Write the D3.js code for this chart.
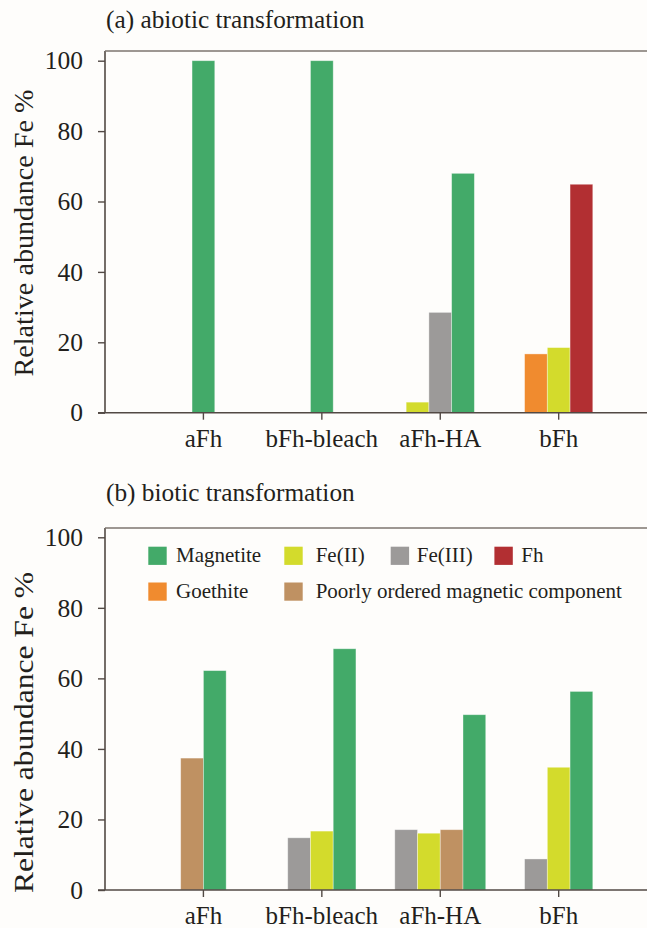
<!DOCTYPE html>
<html>
<head>
<meta charset="utf-8">
<script src="https://cdn.jsdelivr.net/npm/d3@7/dist/d3.min.js"></script>
<style>
  html, body { margin: 0; padding: 0; background: #fefdfb; }
  svg { display: block; }
  svg text { font-family: "Liberation Serif", Tinos, "Times New Roman", Times, "DejaVu Serif", serif !important; fill: #231f1c; }
</style>
</head>
<body>
<svg id="chart" width="647" height="928"></svg>
<script>
// Sample groups along the x axis
const categories = ["aFh", "bFh-bleach", "aFh-HA", "bFh"];
const yTicks = [0, 20, 40, 60, 80, 100];

// (a) abiotic transformation, relative abundance of Fe phases (%)
const abioticGoethite  = [0, 0, 0, 16.7];
const abioticFe2       = [0, 0, 3.0, 18.5];
const abioticFe3       = [0, 0, 28.5, 0];
const abioticMagnetite = [100, 100, 68.0, 0];
const abioticFh        = [0, 0, 0, 64.9];

// (b) biotic transformation
const bioticFe3       = [0, 14.8, 17.1, 8.8];
const bioticFe2       = [0, 16.7, 16.1, 34.8];
const bioticPoorly    = [37.4, 0, 17.1, 0];
const bioticMagnetite = [62.2, 68.4, 49.7, 56.3];

const colors = {
  "Magnetite": "#43aa69",
  "Fe(II)": "#d3db2c",
  "Fe(III)": "#9c9a99",
  "Fh": "#b22f32",
  "Goethite": "#f08b2f",
  "Poorly ordered magnetic component": "#bf9162"
};

const panels = [
  {
    title: "(a) abiotic transformation",
    series: [
      { name: "Goethite", values: abioticGoethite },
      { name: "Fe(II)", values: abioticFe2 },
      { name: "Fe(III)", values: abioticFe3 },
      { name: "Magnetite", values: abioticMagnetite },
      { name: "Fh", values: abioticFh }
    ],
    frameTop: 51, y0: 412.7, y100: 60.7, titleY: 27.7,
    labelCenter: 233, labelLength: 287, legend: false
  },
  {
    title: "(b) biotic transformation",
    series: [
      { name: "Fe(III)", values: bioticFe3 },
      { name: "Fe(II)", values: bioticFe2 },
      { name: "Poorly ordered magnetic component", values: bioticPoorly },
      { name: "Magnetite", values: bioticMagnetite }
    ],
    frameTop: 528, y0: 890, y100: 537.3, titleY: 501,
    labelCenter: 732.5, labelLength: 321, legend: true
  }
];

const svg = d3.select("#chart");
const W = 647;
const axisX = 105;
const axisColor = "#524944";
const serif = "'Liberation Serif', Tinos, 'Times New Roman', Times, 'DejaVu Serif', serif";

// band scale shared by both panels: one band per sample
const x = d3.scaleBand().domain(categories).range([144.2, 617.9]).padding(0);
const barWidth = x.bandwidth() * 0.192;

panels.forEach(p => {
  const y = d3.scaleLinear().domain([0, 100]).range([p.y0, p.y100]);
  const g = svg.append("g").attr("font-family", serif);

  // title
  g.append("text")
    .attr("x", 106).attr("y", p.titleY)
    .attr("font-size", 25.3)
    .text(p.title);

  // y axis label
  g.append("text")
    .attr("transform", `translate(33,${p.labelCenter}) rotate(-90)`)
    .attr("text-anchor", "middle")
    .attr("font-size", 27)
    .attr("textLength", p.labelLength)
    .attr("lengthAdjust", "spacingAndGlyphs")
    .text("Relative abundance Fe %");

  // bars: only non-zero phases are drawn, centred on the sample tick
  categories.forEach((cat, i) => {
    const present = p.series.filter(s => s.values[i] > 0);
    const cx = x(cat) + x.bandwidth() / 2;
    const sub = d3.scaleBand()
      .domain(present.map(s => s.name))
      .range([cx - present.length * barWidth / 2, cx + present.length * barWidth / 2]);
    g.selectAll(null)
      .data(present)
      .join("rect")
      .attr("x", s => sub(s.name))
      .attr("width", sub.bandwidth())
      .attr("y", s => y(s.values[i]))
      .attr("height", s => y(0) - y(s.values[i]))
      .attr("fill", s => colors[s.name])
      .attr("stroke", "#ffffff")
      .attr("stroke-opacity", 0.45)
      .attr("stroke-width", 0.8);
  });

  // frame: left axis line, top border
  g.append("line")
    .attr("x1", axisX).attr("x2", axisX)
    .attr("y1", p.frameTop).attr("y2", y(0))
    .attr("stroke", axisColor).attr("stroke-width", 1.6);
  g.append("line")
    .attr("x1", axisX).attr("x2", W)
    .attr("y1", p.frameTop).attr("y2", p.frameTop)
    .attr("stroke", "#7c746f").attr("stroke-width", 1.6);

  // y axis ticks and labels
  const ya = g.append("g")
    .attr("transform", `translate(${axisX},0)`)
    .call(d3.axisLeft(y).tickValues(yTicks).tickSize(7).tickPadding(15).tickSizeOuter(0));
  ya.attr("font-family", serif);
  ya.select(".domain").remove();
  ya.selectAll(".tick line").attr("stroke", axisColor).attr("stroke-width", 1.4);
  ya.selectAll(".tick text")
    .attr("font-size", 25.5)
    .attr("fill", "#231f1c");

  // x axis
  const xa = g.append("g")
    .attr("transform", `translate(0,${y(0)})`)
    .call(d3.axisBottom(x).tickSize(7).tickPadding(9.5).tickSizeOuter(0));
  xa.attr("font-family", serif);
  xa.select(".domain").remove();
  xa.selectAll(".tick line").attr("stroke", axisColor).attr("stroke-width", 1.4);
  xa.selectAll(".tick text")
    .attr("font-size", 25)
    .attr("fill", "#231f1c");
  g.append("line")
    .attr("x1", axisX - 7).attr("x2", W)
    .attr("y1", y(0)).attr("y2", y(0))
    .attr("stroke", axisColor).attr("stroke-width", 1.6);

  // legend
  if (p.legend) {
    const items = [
      { name: "Magnetite", x: 148.3, y: 546.7, tx: 27.7 },
      { name: "Fe(II)", x: 284.3, y: 546.7, tx: 31.4 },
      { name: "Fe(III)", x: 390.7, y: 546.7, tx: 26 },
      { name: "Fh", x: 494.4, y: 546.7, tx: 26.8 },
      { name: "Goethite", x: 148.3, y: 582.5, tx: 27.7 },
      { name: "Poorly ordered magnetic component", x: 284.3, y: 582.5, tx: 31.4 }
    ];
    const it = g.append("g").selectAll("g").data(items).join("g")
      .attr("transform", d => `translate(${d.x},${d.y})`);
    it.append("rect")
      .attr("width", 18.4).attr("height", 18.2)
      .attr("fill", d => colors[d.name]);
    it.append("text")
      .attr("x", d => d.tx)
      .attr("y", 15.2)
      .attr("font-size", 21)
      .text(d => d.name);
  }
});
</script>
</body>
</html>
